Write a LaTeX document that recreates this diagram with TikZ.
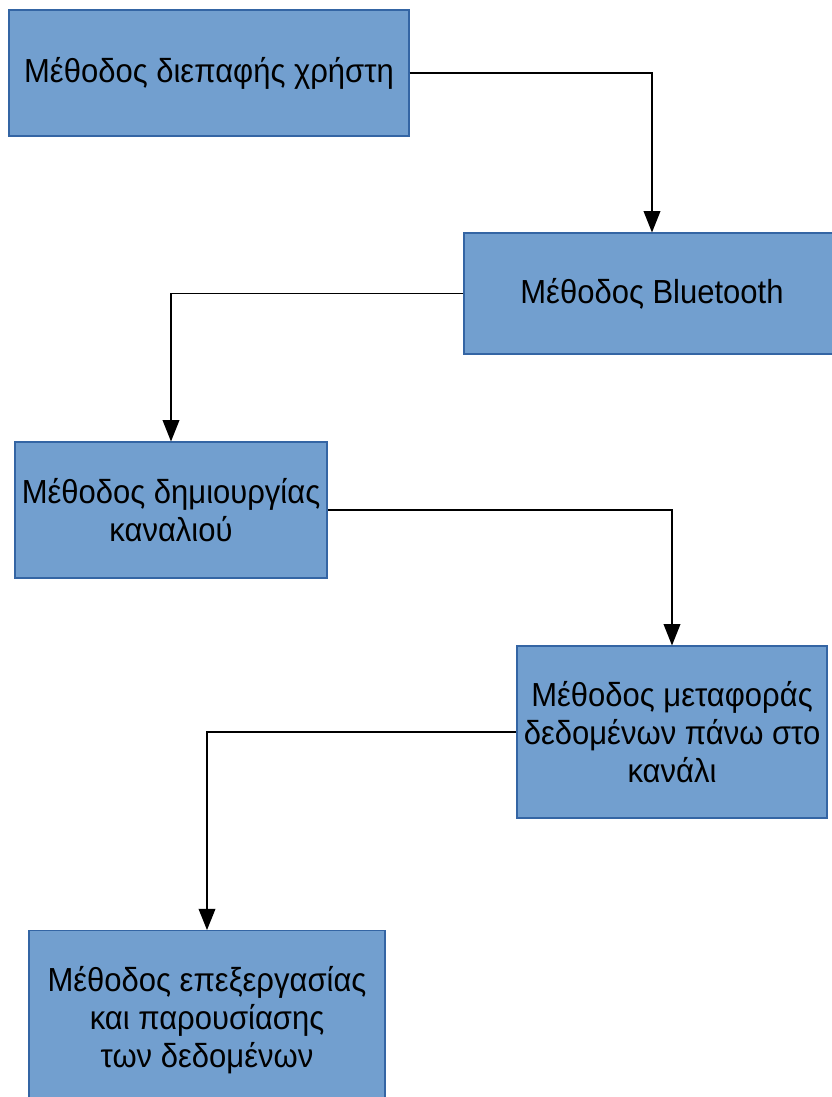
\documentclass[tikz,border=0pt]{standalone}
\usepackage{fontspec}
\setmainfont[FakeStretch=0.93]{Liberation Sans}
\usetikzlibrary{arrows.meta}
\definecolor{boxfill}{HTML}{729FCF}
\definecolor{boxline}{HTML}{3465A4}
\tikzstyle{method}=[draw=boxline, fill=boxfill, line width=0.8pt, align=center,
  inner sep=0pt, font=\fontsize{25}{28.5}\selectfont]
\tikzstyle{flow}=[line width=1.1pt, -{Triangle[length=16pt, width=12.5pt]}]

\begin{document}
\begin{tikzpicture}[x=0.75pt, y=-0.75pt]
  \clip (0, 0) rectangle (832, 1097);
  \node[method, minimum width=300pt, minimum height=94.5pt] (ui)
    at (209, 73) {Μέθοδος διεπαφής χρήστη};
  \node[method, minimum width=282pt, minimum height=90.75pt] (bt)
    at (652, 293.5) {Μέθοδος Bluetooth};
  \node[method, minimum width=234pt, minimum height=102pt] (chan)
    at (171, 510) {Μέθοδος δημιουργίας\\καναλιού};
  \node[method, minimum width=232.5pt, minimum height=129pt] (xfer)
    at (672, 732) {Μέθοδος μεταφοράς\\δεδομένων πάνω στο\\κανάλι};
  \node[method, minimum width=267pt, minimum height=134pt] (proc)
    at (207, 1020) {Μέθοδος επεξεργασίας\\και παρουσίασης\\των δεδομένων};
  \draw[flow] (ui.east) -| (bt.north);
  \draw[flow] (bt.west) -| (chan.north);
  \draw[flow] (chan.east) -| (xfer.north);
  \draw[flow] (xfer.west) -| (proc.north);
\end{tikzpicture}
\end{document}
